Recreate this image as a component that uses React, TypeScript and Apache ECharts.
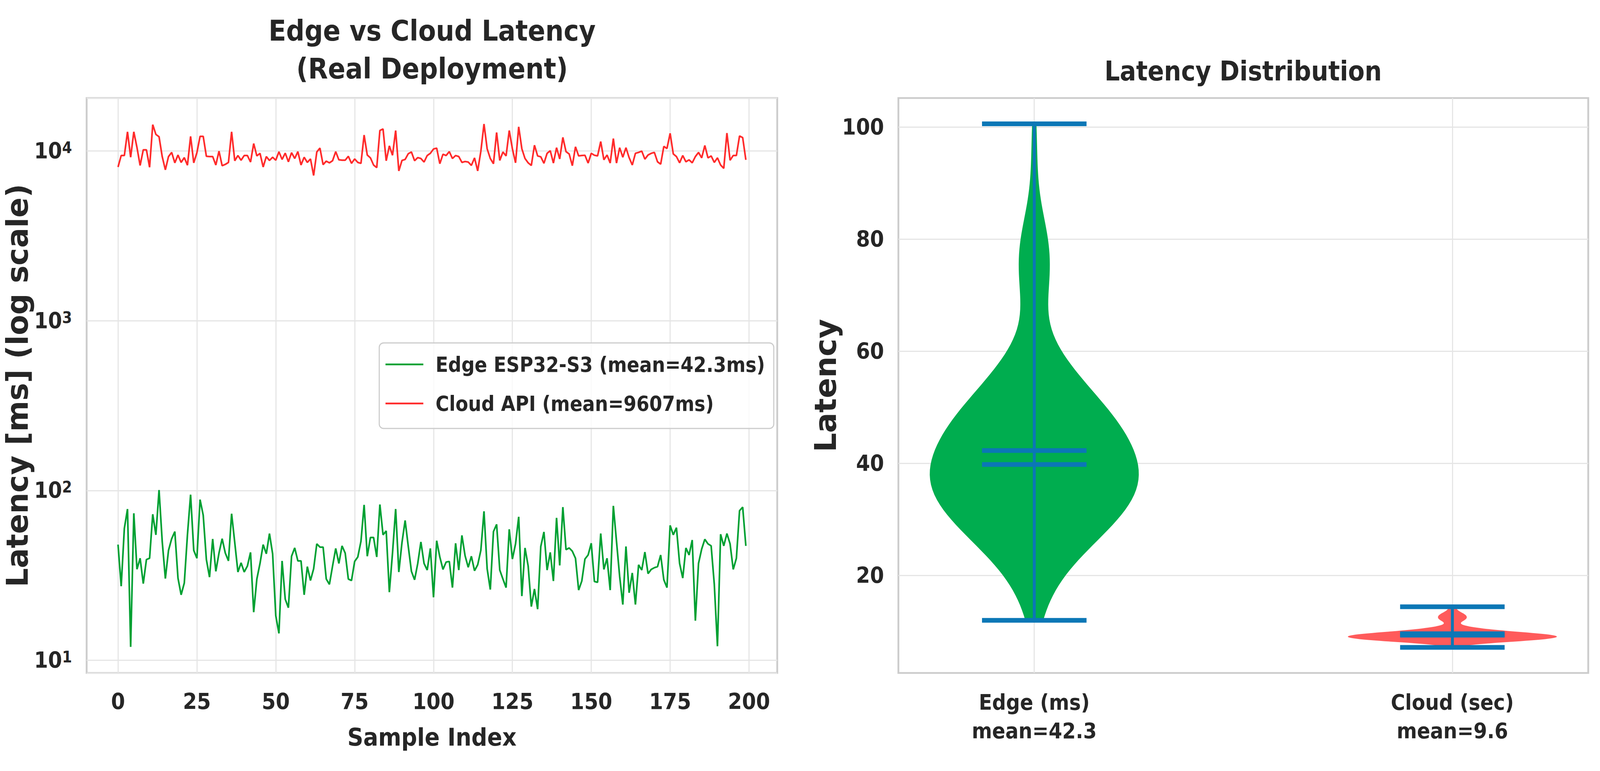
import React, { useEffect, useRef } from 'react';
import * as echarts from 'echarts';

// ---------------- data ----------------
const edgeLatencyMs: number[] = [
  48.0, 27.3, 59.8, 77.8, 12.0, 73.4, 34.4, 39.9, 28.3, 39.2,
  39.9, 72.5, 54.8, 100.6, 50.2, 30.3, 44.4, 52.0, 57.3, 30.5,
  24.3, 28.5, 54.8, 94.5, 44.4, 39.9, 88.4, 71.5, 39.2, 30.9,
  51.8, 33.4, 42.8, 52.0, 42.8, 38.5, 73.0, 49.3, 33.1, 37.5,
  33.1, 35.9, 43.2, 19.2, 30.1, 37.2, 48.0, 42.4, 55.8, 42.4,
  18.3, 14.4, 38.5, 22.9, 20.4, 41.0, 45.9, 38.5, 38.5, 24.3,
  35.6, 29.5, 34.6, 48.5, 46.4, 46.4, 30.1, 28.0, 35.9, 45.6,
  37.2, 47.2, 42.8, 30.1, 29.5, 38.2, 40.6, 50.2, 82.3, 41.0,
  52.9, 52.9, 40.6, 82.7, 54.8, 57.8, 25.2, 42.8, 77.8, 33.1,
  49.3, 66.6, 46.8, 33.4, 29.8, 37.2, 49.8, 37.2, 34.0, 45.6,
  23.5, 50.6, 40.6, 34.3, 37.9, 38.2, 26.8, 48.9, 34.0, 54.4,
  41.3, 35.3, 41.0, 33.7, 36.5, 44.4, 75.4, 34.6, 26.1, 57.3,
  63.2, 34.0, 30.1, 26.8, 59.1, 39.5, 48.5, 70.0, 23.9, 45.9,
  35.9, 20.7, 26.3, 20.0, 46.8, 57.0, 34.0, 43.2, 29.3, 69.0,
  36.2, 79.8, 44.8, 45.9, 43.9, 39.9, 25.9, 29.3, 39.5, 41.7,
  48.9, 29.1, 28.8, 55.8, 34.3, 39.9, 25.9, 81.2, 50.2, 31.2,
  21.3, 46.8, 25.0, 32.7, 21.3, 36.5, 34.0, 43.4, 32.4, 34.3,
  35.1, 35.6, 41.7, 29.8, 26.8, 62.3, 54.8, 60.4, 37.2, 30.5,
  45.9, 41.7, 51.1, 17.1, 37.2, 45.2, 51.6, 48.5, 47.2, 28.0,
  12.1, 55.3, 47.2, 55.8, 48.5, 34.3, 39.9, 76.0, 79.8, 47.2,
];

const cloudLatencyMs: number[] = [
  8045, 9400, 9400, 12964, 9187, 12964, 10489, 8218, 10160, 10160,
  8017, 14289, 12520, 12124, 9268, 7740, 9268, 9808, 8514, 9467,
  8560, 9138, 8247, 12190, 8514, 9772, 12190, 12190, 9301, 9268,
  9268, 8264, 9982, 8190, 8336, 8560, 12964, 8758, 9400, 8820,
  9400, 9400, 8603, 11058, 9350, 9687, 8045, 9268, 8790, 9187,
  8820, 9894, 8915, 9721, 8636, 9772, 9027, 9912, 8264, 9187,
  8560, 8978, 7173, 9860, 10397, 8307, 8713, 8514, 8758, 9912,
  8868, 8820, 8820, 9301, 8455, 8978, 8560, 8455, 12406, 9467,
  9106, 8264, 7975, 13195, 13478, 8758, 10715, 9434, 13195, 7630,
  8790, 8915, 9636, 9860, 8758, 9138, 9027, 8603, 9400, 9687,
  10268, 10397, 8410, 9568, 9400, 9912, 9027, 9400, 9268, 8560,
  8666, 8603, 8218, 9106, 7630, 9947, 14413, 10304, 9027, 8410,
  12850, 8790, 9860, 9350, 13195, 10304, 8514, 13867, 10304, 9027,
  8514, 8218, 10808, 9350, 9237, 8455, 9687, 10035, 8486, 10451,
  8978, 12017, 9912, 9602, 8190, 10582, 9350, 9400, 9434, 8486,
  9687, 9434, 9350, 11358, 8868, 9467, 8486, 11827, 8486, 10451,
  9187, 10451, 9138, 8264, 9687, 9808, 9982, 8947, 9467, 9687,
  9808, 8636, 8363, 10638, 10341, 12697, 9602, 9268, 8514, 9400,
  8636, 8868, 8514, 9268, 9808, 9106, 10771, 9106, 9350, 8560,
  9106, 8264, 7903, 12741, 8820, 9400, 9400, 12255, 11977, 8868,
];

const sampleTicks: number[] = [0, 25, 50, 75, 100, 125, 150, 175, 200];
const distTicks: number[] = [20, 40, 60, 80, 100];
const violinPositions: number[] = [1, 2];
const violinLabels: string[] = ['Edge (ms)\nmean=42.3', 'Cloud (sec)\nmean=9.6'];
const edgeMean = 42.3;
const edgeMedian = 39.8;
const cloudMeanSec = 9.607;
const cloudMedianSec = 9.35;
const seriesNames: string[] = ['Edge ESP32-S3 (mean=42.3ms)', 'Cloud API (mean=9607ms)'];

// ---------------- styling ----------------
const NARROW = '"DejaVu Sans Condensed", "DejaVu Sans", sans-serif';
const WIDE = '"DejaVu Sans", sans-serif';
const TEXT = '#262626';
const GRID_LINE = '#e5e5e5';
const FRAME = '#cccccc';
const GREEN_LINE = '#00a032';
const RED_LINE = '#ff2b2b';
const GREEN_FILL = '#00ad4f';
const RED_FILL = '#ff5b5b';
const BAR = '#0b77b6';
const REF_W = 4358;
const REF_H = 1974;

// Gaussian KDE (Scott's rule), as matplotlib's violinplot does
function kde(values: number[], npts = 100): number[][] {
  const n = values.length;
  const mean = values.reduce((a, b) => a + b, 0) / n;
  const variance = values.reduce((a, b) => a + (b - mean) * (b - mean), 0) / (n - 1);
  const bw = Math.pow(n, -0.2) * Math.sqrt(variance);
  const lo = Math.min(...values);
  const hi = Math.max(...values);
  const out: number[][] = [];
  let maxD = 0;
  for (let i = 0; i < npts; i++) {
    const y = lo + ((hi - lo) * i) / (npts - 1);
    let s = 0;
    for (const v of values) {
      const z = (y - v) / bw;
      s += Math.exp(-0.5 * z * z);
    }
    out.push([y, s]);
    if (s > maxD) maxD = s;
  }
  return out.map(([y, s]) => [y, (s / maxD) * 0.25]);
}

const cloudSec = cloudLatencyMs.map((v) => v / 1000);

const violins = [
  {
    kde: kde(edgeLatencyMs),
    min: Math.min(...edgeLatencyMs),
    max: Math.max(...edgeLatencyMs),
    mean: edgeMean,
    median: edgeMedian,
    color: GREEN_FILL,
  },
  {
    kde: kde(cloudSec),
    min: Math.min(...cloudSec),
    max: Math.max(...cloudSec),
    mean: cloudMeanSec,
    median: cloudMedianSec,
    color: RED_FILL,
  },
];

function isPow10(v: number): number | null {
  const l = Math.log10(v);
  const r = Math.round(l);
  return Math.abs(l - r) < 1e-6 ? r : null;
}

export default function App() {
  const ref = useRef<HTMLDivElement>(null);

  useEffect(() => {
    document.documentElement.style.margin = '0';
    document.documentElement.style.overflow = 'hidden';
    document.body.style.margin = '0';
    document.body.style.overflow = 'hidden';
    const el = ref.current;
    if (!el) return;
    const W = el.clientWidth || REF_W;
    const H = el.clientHeight || REF_H;
    const sx = W / REF_W;
    const sy = H / REF_H;
    const s = Math.min(sx, sy);
    const X = (v: number) => v * sx;
    const Y = (v: number) => v * sy;
    const F = (v: number) => v * s;

    const chart = echarts.init(el, undefined, { renderer: 'svg' });

    const tickLabel = {
      fontSize: F(61),
      lineHeight: F(61),
      fontFamily: NARROW,
      fontWeight: 'bold' as const,
      color: TEXT,
    };
    const gridLine = { show: true, lineStyle: { color: GRID_LINE, width: F(3) } };

    const option: any = {
      animation: false,
      backgroundColor: '#ffffff',
      title: [
        {
          text: 'Edge vs Cloud Latency\n(Real Deployment)',
          left: X(1177),
          top: Y(30),
          textAlign: 'center',
          padding: 0,
          textStyle: { fontSize: F(78), fontFamily: NARROW, fontWeight: 'bold', color: TEXT, lineHeight: F(103) },
        },
        {
          text: 'Latency Distribution',
          left: X(3386),
          top: Y(134),
          textAlign: 'center',
          padding: 0,
          textStyle: { fontSize: F(73), fontFamily: NARROW, fontWeight: 'bold', color: TEXT, lineHeight: F(103) },
        },
      ],
      legend: {
        data: seriesNames,
        left: X(1033),
        top: Y(878),
        orient: 'vertical',
        icon: 'rect',
        itemWidth: F(103),
        itemHeight: F(5),
        itemGap: Y(44),
        padding: [Y(27), F(24), Y(36), F(17)],
        backgroundColor: 'rgba(255,255,255,0.8)',
        borderColor: FRAME,
        borderWidth: F(3),
        borderRadius: F(12),
        textStyle: {
          fontSize: F(56),
          lineHeight: Y(56),
          fontFamily: NARROW,
          fontWeight: 'bold',
          color: TEXT,
          padding: [0, 0, 0, F(28)],
        },
      },
      grid: [
        { left: X(236), top: Y(251), width: X(1881), height: Y(1472), show: true, borderColor: FRAME, borderWidth: F(5), backgroundColor: 'transparent' },
        { left: X(2447), top: Y(251), width: X(1879), height: Y(1472), show: true, borderColor: FRAME, borderWidth: F(5), backgroundColor: 'transparent' },
      ],
      xAxis: [
        {
          type: 'value',
          gridIndex: 0,
          min: -9.95,
          max: 208.95,
          axisLine: { show: false },
          axisTick: { show: false, customValues: sampleTicks },
          axisLabel: { ...tickLabel, customValues: sampleTicks, margin: Y(45), formatter: (v: number) => String(v) },
          splitLine: gridLine,
          name: 'Sample Index',
          nameLocation: 'middle',
          nameGap: Y(133),
          nameTextStyle: { fontSize: F(67), lineHeight: F(67), fontFamily: NARROW, fontWeight: 'bold', color: TEXT },
        },
        {
          type: 'value',
          gridIndex: 1,
          min: 0.675,
          max: 2.325,
          axisLine: { show: false },
          axisTick: { show: false, customValues: violinPositions },
          axisLabel: {
            ...tickLabel,
            fontSize: F(59),
            lineHeight: Y(73),
            margin: Y(38),
            customValues: violinPositions,
            formatter: (v: number) => {
              const i = violinPositions.indexOf(Math.round(v));
              return i >= 0 ? violinLabels[i] : '';
            },
          },
          splitLine: gridLine,
        },
      ],
      yAxis: [
        {
          type: 'log',
          logBase: 10,
          gridIndex: 0,
          min: 8.42,
          max: 20500,
          axisLine: { show: false },
          axisTick: { show: false },
          minorTick: { show: false },
          minorSplitLine: { show: false },
          axisLabel: {
            margin: X(40),
            showMinLabel: false,
            showMaxLabel: false,
            formatter: (v: number) => {
              const p = isPow10(v);
              return p === null ? '' : '{base|10}{sup|' + p + '}';
            },
            rich: {
              base: { fontSize: F(61), lineHeight: F(61), fontFamily: NARROW, fontWeight: 'bold', color: TEXT },
              sup: { fontSize: F(43), lineHeight: F(34), fontFamily: NARROW, fontWeight: 'bold', color: TEXT, verticalAlign: 'top' },
            },
          },
          splitLine: gridLine,
          name: 'Latency [ms] (log scale)',
          nameLocation: 'middle',
          nameRotate: 90,
          nameGap: X(123),
          nameTextStyle: { fontSize: F(81), lineHeight: F(82), fontFamily: WIDE, fontWeight: 'bold', color: TEXT, verticalAlign: 'bottom' },
        },
        {
          type: 'value',
          gridIndex: 1,
          min: 2.6,
          max: 105.2,
          axisLine: { show: false },
          axisTick: { show: false, customValues: distTicks },
          axisLabel: { ...tickLabel, margin: X(39), customValues: distTicks },
          splitLine: gridLine,
          name: 'Latency',
          nameLocation: 'middle',
          nameRotate: 90,
          nameGap: X(133),
          nameTextStyle: { fontSize: F(82), lineHeight: F(80), fontFamily: WIDE, fontWeight: 'bold', color: TEXT, verticalAlign: 'bottom' },
        },
      ],
      series: [
        {
          name: seriesNames[0],
          type: 'line',
          xAxisIndex: 0,
          yAxisIndex: 0,
          data: edgeLatencyMs.map((v, i) => [i, v]),
          symbol: 'none',
          color: GREEN_LINE,
          itemStyle: { color: GREEN_LINE },
          lineStyle: { color: GREEN_LINE, width: F(4.5) },
          z: 3,
        },
        {
          name: seriesNames[1],
          type: 'line',
          xAxisIndex: 0,
          yAxisIndex: 0,
          data: cloudLatencyMs.map((v, i) => [i, v]),
          symbol: 'none',
          color: RED_LINE,
          itemStyle: { color: RED_LINE },
          lineStyle: { color: RED_LINE, width: F(4.5) },
          z: 3,
        },
        {
          type: 'custom',
          xAxisIndex: 1,
          yAxisIndex: 1,
          data: violinPositions.map((p, i) => [p, violins[i].mean]),
          renderItem: (params: any, api: any) => {
            const i = params.dataIndex;
            const v = violins[i];
            const pos = violinPositions[i];
            const leftSide = v.kde.map(([y, w]) => api.coord([pos - w, y]));
            const rightSide = v.kde
              .slice()
              .reverse()
              .map(([y, w]) => api.coord([pos + w, y]));
            const hline = (val: number) => {
              const a = api.coord([pos - 0.125, val]);
              const b = api.coord([pos + 0.125, val]);
              return {
                type: 'line',
                shape: { x1: a[0], y1: a[1], x2: b[0], y2: b[1] },
                style: { stroke: BAR, lineWidth: Y(12) },
              };
            };
            const top = api.coord([pos, v.max]);
            const bot = api.coord([pos, v.min]);
            return {
              type: 'group',
              children: [
                { type: 'polygon', shape: { points: leftSide.concat(rightSide) }, style: { fill: v.color } },
                {
                  type: 'line',
                  shape: { x1: top[0], y1: top[1], x2: bot[0], y2: bot[1] },
                  style: { stroke: BAR, lineWidth: X(8) },
                },
                hline(v.min),
                hline(v.max),
                hline(v.mean),
                hline(v.median),
              ],
            };
          },
          z: 3,
        },
      ],
    };

    chart.setOption(option);
    return () => {
      chart.dispose();
    };
  }, []);

  return <div ref={ref} style={{ width: '100vw', height: '100vh' }} />;
}
